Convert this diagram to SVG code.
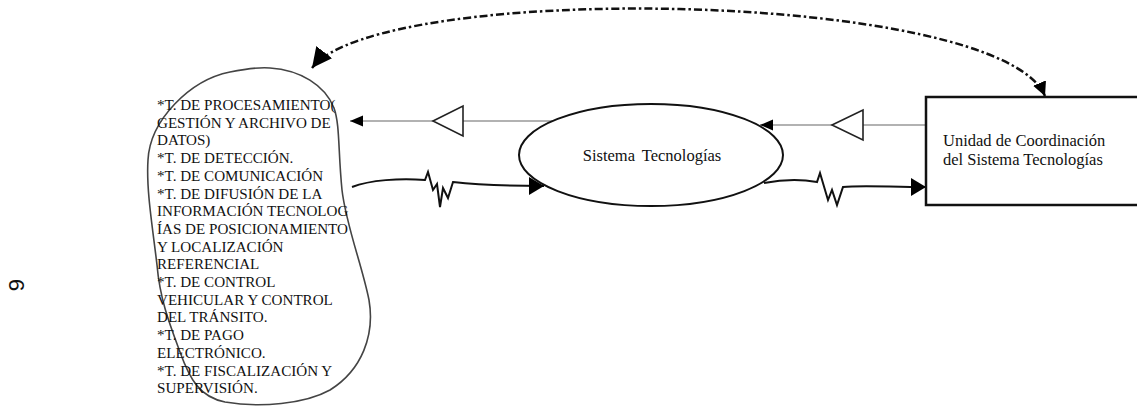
<svg xmlns="http://www.w3.org/2000/svg" width="1137" height="408" viewBox="0 0 1137 408">
<defs>
<style>
.t{font-family:"Liberation Serif","Times New Roman",serif;fill:#111}
.blob{fill:none;stroke:#444;stroke-width:1.6}
.thin{fill:none;stroke:#666;stroke-width:1.2}
.wave{fill:none;stroke:#111;stroke-width:2;stroke-linejoin:miter}
.tri{fill:#fff;stroke:#222;stroke-width:1.6}
</style>
<marker id="ah" markerUnits="userSpaceOnUse" markerWidth="14" markerHeight="14" refX="13" refY="7" orient="auto">
<path d="M0,1.5 L13,7 L0,12.5 z" fill="#000"/>
</marker>
<marker id="ahb" markerUnits="userSpaceOnUse" markerWidth="16" markerHeight="18" refX="15" refY="9" orient="auto">
<path d="M0,0 L15,9 L0,18 z" fill="#000"/>
</marker>
<marker id="big" markerUnits="userSpaceOnUse" markerWidth="22" markerHeight="22" refX="20" refY="10" orient="auto">
<path d="M0,0 L20,10 L0,20 z" fill="#000"/>
</marker>
<marker id="small" markerUnits="userSpaceOnUse" markerWidth="16" markerHeight="16" refX="14" refY="7" orient="auto">
<path d="M0,0 L14,7 L0,14 z" fill="#000"/>
</marker>
</defs>

<text x="16" y="285" style="font-family:'Liberation Sans',Arial,sans-serif" font-size="22" fill="#111" text-anchor="middle" dominant-baseline="central" transform="rotate(-90 16 285)">9</text>

<g id="connectors">
<path d="M1045,96 C1000,-10 380,-20 312,68" fill="none" stroke="#111" stroke-width="2.5" stroke-dasharray="8 3 2.5 3" marker-end="url(#big)"/>
<path d="M312,68 C380,-20 1000,-10 1045,96" fill="none" stroke="none" marker-end="url(#small)"/>
<line class="thin" x1="552" y1="121" x2="350" y2="121" marker-end="url(#ah)"/>
<polygon class="tri" points="433,121 463,106 463,136"/>
<line class="thin" x1="926" y1="125" x2="760" y2="125" marker-end="url(#ah)"/>
<polygon class="tri" points="832,125 863,110 863,140"/>
<path class="wave" d="M352,187 C370,180 400,178 425,180 L428,172 L433,190 L437,184 L440,207 L443,188 L448,198 L453,182 C470,184 500,186 544,186" marker-end="url(#ahb)"/>
<path class="wave" d="M764,183 C780,180 800,179 817,182 L820,173 L828,200 L832,190 L837,205 L843,187 C860,185 890,187 926,187" marker-end="url(#ahb)"/>
</g>

<g id="tecnologias-list">
<path class="blob" d="M270,68 C300,70 325,85 334,108 C340,125 338,150 342,190 C346,225 362,265 369,300 C375,335 362,370 330,390 C305,404 260,408 225,402 C200,397 190,380 180,352 C170,325 160,300 157,265 C153,230 146,190 148,160 C150,120 190,80 230,72 C245,69 258,67 270,68 Z"/>
<text class="t" font-size="15.1">
<tspan x="157" y="110">*T. DE PROCESAMIENTO(</tspan>
<tspan x="157" y="127.7">GESTIÓN Y ARCHIVO DE</tspan>
<tspan x="157" y="145.4">DATOS)</tspan>
<tspan x="157" y="163.1">*T. DE DETECCIÓN.</tspan>
<tspan x="157" y="180.8">*T. DE COMUNICACIÓN</tspan>
<tspan x="157" y="198.5">*T. DE DIFUSIÓN DE LA</tspan>
<tspan x="157" y="216.2">INFORMACIÓN TECNOLOG</tspan>
<tspan x="157" y="233.9">ÍAS DE POSICIONAMIENTO</tspan>
<tspan x="157" y="251.6">Y LOCALIZACIÓN</tspan>
<tspan x="157" y="269.3">REFERENCIAL</tspan>
<tspan x="157" y="287">*T. DE CONTROL</tspan>
<tspan x="157" y="304.7">VEHICULAR Y CONTROL</tspan>
<tspan x="157" y="322.4">DEL TRÁNSITO.</tspan>
<tspan x="157" y="340.1">*T. DE PAGO</tspan>
<tspan x="157" y="357.8">ELECTRÓNICO.</tspan>
<tspan x="157" y="375.5">*T. DE FISCALIZACIÓN Y</tspan>
<tspan x="157" y="393.2">SUPERVISIÓN.</tspan>
</text>
</g>

<g id="sistema">
<ellipse cx="651" cy="155" rx="132" ry="51" fill="#fff" stroke="#111" stroke-width="2"/>
<text class="t" x="652" y="161" font-size="16.5" text-anchor="middle" word-spacing="3">Sistema Tecnologías</text>
</g>

<g id="unidad">
<rect x="926" y="97" width="220" height="108" fill="#fff" stroke="#111" stroke-width="2.5"/>
<text class="t" font-size="16.5">
<tspan x="943" y="146">Unidad de Coordinación</tspan>
<tspan x="943" y="165">del Sistema Tecnologías</tspan>
</text>
</g>
</svg>
